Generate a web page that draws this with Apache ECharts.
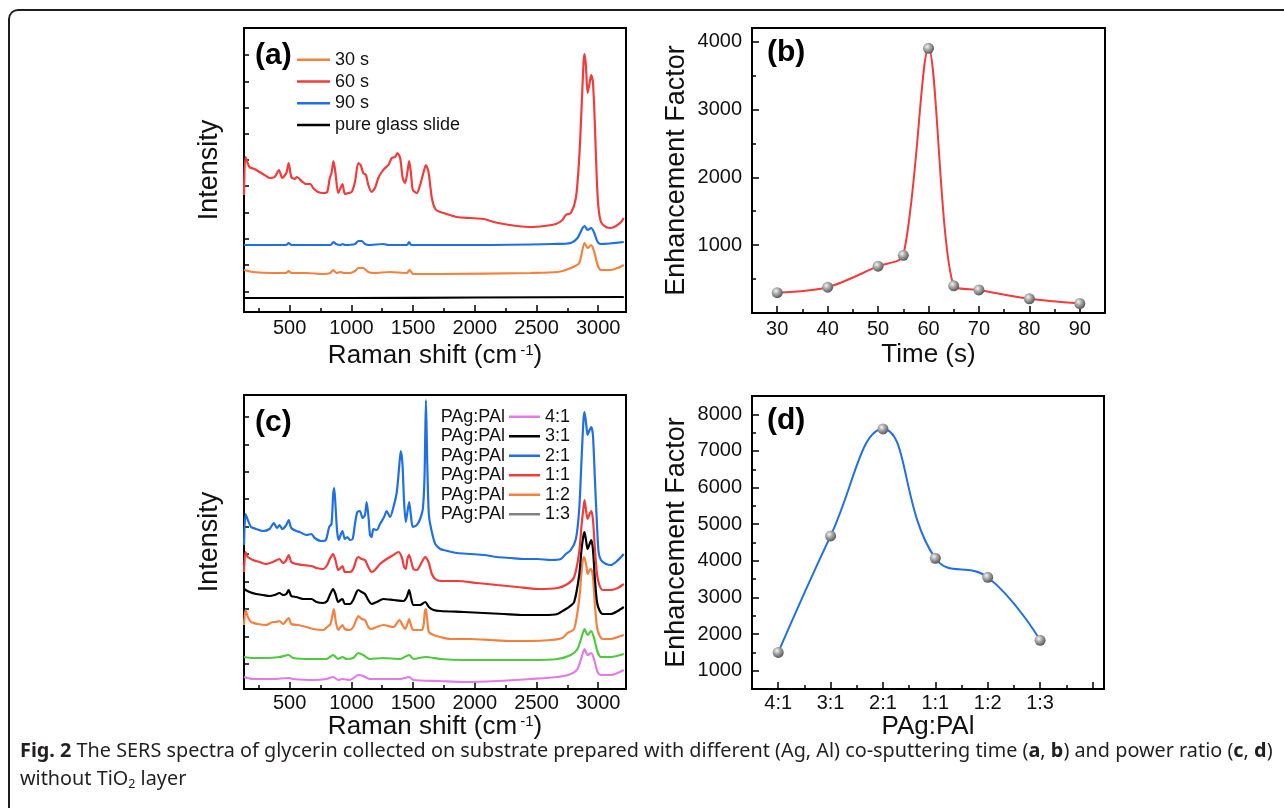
<!DOCTYPE html>
<html><head><meta charset="utf-8">
<script src="https://cdn.jsdelivr.net/npm/echarts@6/dist/echarts.min.js"></script>
<style>
html,body{margin:0;padding:0;background:#fff;}
#wrap{position:relative;width:1284px;height:808px;overflow:hidden;background:#fff;}
#chart{position:absolute;left:0;top:0;width:1284px;height:808px;}
#frame{position:absolute;left:8px;top:9px;width:1400px;height:900px;border-left:2px solid #1e1e1e;border-top:2px solid #1e1e1e;border-top-left-radius:10px;pointer-events:none;}
#caption{position:absolute;left:20px;top:736px;font-family:'Noto Sans','Open Sans','Liberation Sans',sans-serif;font-size:19px;line-height:28px;color:#231f20;transform-origin:0 0;white-space:nowrap;}
#caption b{font-weight:700;}
#caption sub{font-size:12px;vertical-align:-3px;line-height:0;}
</style></head>
<body><div id="wrap"><div id="chart"></div><div id="frame"></div>
<div id="caption"><span id="cap1"><b>Fig. 2</b> The SERS spectra of glycerin collected on substrate prepared with different (Ag, Al) co-sputtering time (<b>a</b>, <b>b</b>) and power ratio (<b>c</b>, <b>d</b>)</span><br>without TiO<sub>2</sub> layer</div></div>
<script>
// ---------- data ----------
const spectrumA30 = [[130,42],[202,40],[364,39],[470,39],[492,41],[515,39],[635,39],[771,38],[830,39],[852,42],[880,39],[912,40],[940,39],[988,39],[1030,41],[1056,44],[1096,44],[1137,40],[1178,39],[1313,40],[1449,39],[1471,42],[1503,38],[1720,38],[2453,39],[2670,40],[2778,44],[2846,49],[2889,69],[2914,64],[2943,67],[2968,60],[2995,47],[3022,42],[3103,42],[3158,44],[3207,47]];
const spectrumA60 = [[130,117],[142,155],[174,145],[215,143],[256,140],[296,137],[337,134],[378,135],[413,142],[440,134],[473,139],[492,149],[513,135],[540,133],[559,135],[595,131],[635,128],[668,128],[690,124],[730,120],[771,119],[804,120],[825,134],[839,139],[855,151],[871,139],[893,119],[912,124],[928,128],[947,118],[974,119],[1002,120],[1029,130],[1056,149],[1075,147],[1096,139],[1118,137],[1137,127],[1164,120],[1191,124],[1218,134],[1246,140],[1273,144],[1300,147],[1327,154],[1354,155],[1373,159],[1395,154],[1416,134],[1435,129],[1454,140],[1468,151],[1482,140],[1498,122],[1530,119],[1557,127],[1585,140],[1604,147],[1625,140],[1652,114],[1680,103],[1720,100],[1747,99],[1856,95],[1964,94],[2073,93],[2154,90],[2236,88],[2344,86],[2453,85],[2561,86],[2656,88],[2710,92],[2737,97],[2778,99],[2819,114],[2846,154],[2865,204],[2881,250],[2889,258],[2900,247],[2914,219],[2930,229],[2943,237],[2957,230],[2973,187],[2987,137],[3000,107],[3022,90],[3063,85],[3103,84],[3144,86],[3185,90],[3207,94]];
const spectrumA90 = [[130,67],[300,67],[470,67],[492,69],[515,67],[830,67],[855,70],[875,68],[910,67],[930,68],[950,67],[1030,68],[1056,71],[1083,71],[1110,68],[1140,67],[1259,68],[1300,67],[1450,67],[1468,70],[1485,67],[2000,67],[2640,68],[2778,69],[2832,74],[2873,84],[2889,86],[2914,82],[2943,84],[2968,79],[2995,70],[3022,68],[3207,70]];
const spectrumGlass = [[130,14],[1000,14],[2000,14.5],[3207,15]];

const spectrumC41 = [[130,12],[202,10],[364,10],[492,11],[527,10],[690,9],[798,10],[852,12],[893,9],[928,10],[988,9],[1056,14],[1096,13],[1151,10],[1259,10],[1395,10],[1468,12],[1503,9],[1720,8],[1910,7],[2181,8],[2453,10],[2670,12],[2778,15],[2832,20],[2873,35],[2889,40],[2914,34],[2943,36],[2968,29],[2995,17],[3022,14],[3103,14],[3207,19]];
const spectrumC31 = [[130,100],[142,99],[174,97],[229,95],[283,94],[337,93],[378,94],[418,96],[446,94],[473,95],[492,99],[513,93],[554,92],[608,90],[676,90],[717,87],[771,86],[804,88],[825,94],[852,100],[871,95],[893,87],[912,89],[928,90],[947,85],[988,85],[1015,89],[1042,97],[1056,99],[1083,97],[1110,95],[1137,89],[1164,85],[1205,87],[1259,90],[1341,89],[1422,88],[1449,92],[1468,99],[1482,92],[1503,84],[1557,84],[1598,87],[1628,82],[1666,79],[1720,78],[1910,77],[2073,76],[2236,75],[2398,74],[2561,74],[2670,75],[2724,79],[2764,82],[2805,87],[2846,114],[2865,140],[2881,154],[2889,157],[2903,147],[2914,140],[2930,145],[2943,149],[2957,140],[2973,110],[2990,87],[3009,79],[3036,75],[3103,75],[3158,78],[3207,82]];
const spectrumC21 = [[130,144],[142,175],[161,169],[188,162],[229,160],[283,158],[337,160],[372,166],[397,161],[418,164],[440,160],[473,164],[492,169],[513,161],[554,158],[581,157],[635,154],[676,155],[703,151],[757,148],[793,149],[820,162],[839,165],[852,194],[861,201],[871,184],[885,157],[898,149],[915,155],[928,158],[947,150],[966,152],[988,149],[1010,150],[1029,165],[1048,177],[1069,178],[1091,171],[1110,174],[1124,187],[1140,170],[1151,154],[1164,152],[1178,160],[1205,159],[1232,165],[1265,172],[1286,178],[1313,172],[1341,182],[1368,197],[1387,222],[1400,238],[1414,225],[1427,187],[1441,167],[1454,177],[1468,187],[1482,174],[1498,162],[1530,164],[1557,170],[1579,180],[1593,214],[1604,289],[1614,230],[1628,174],[1652,157],[1680,145],[1720,140],[1747,139],[1856,136],[1964,135],[2073,134],[2181,132],[2290,131],[2398,130],[2507,130],[2615,129],[2697,130],[2737,135],[2778,139],[2819,150],[2846,180],[2865,230],[2881,270],[2889,277],[2903,264],[2914,254],[2930,259],[2943,262],[2957,254],[2973,210],[2990,164],[3003,137],[3022,129],[3063,125],[3103,124],[3144,127],[3185,132],[3207,135]];
const spectrumC11 = [[130,117],[142,137],[161,132],[202,129],[256,127],[310,125],[364,127],[418,130],[446,126],[473,129],[492,134],[513,127],[554,125],[608,124],[676,123],[717,121],[771,120],[804,124],[825,130],[852,135],[871,129],[893,119],[912,121],[928,123],[947,117],[988,117],[1015,120],[1042,130],[1056,132],[1083,130],[1110,129],[1137,122],[1164,117],[1191,119],[1232,125],[1286,130],[1341,134],[1381,137],[1408,132],[1427,122],[1441,120],[1454,130],[1468,134],[1482,129],[1503,120],[1530,119],[1571,127],[1598,132],[1625,127],[1652,115],[1680,110],[1720,108],[1856,108],[2019,106],[2181,104],[2344,102],[2507,100],[2670,101],[2751,105],[2805,112],[2846,137],[2865,164],[2881,182],[2889,189],[2903,177],[2914,170],[2930,175],[2943,178],[2957,170],[2973,140],[2990,115],[3009,104],[3036,99],[3103,99],[3158,101],[3207,105]];
const spectrumC12 = [[130,64],[142,79],[161,72],[188,67],[242,65],[310,64],[364,67],[391,67],[418,68],[446,65],[492,71],[513,65],[568,64],[635,62],[690,60],[771,59],[804,62],[831,65],[858,80],[874,67],[893,59],[912,62],[928,64],[947,60],[988,59],[1015,62],[1042,70],[1056,73],[1083,70],[1110,69],[1137,62],[1164,60],[1205,62],[1259,64],[1341,62],[1389,69],[1414,64],[1435,60],[1454,65],[1468,70],[1482,64],[1503,59],[1571,59],[1585,64],[1595,77],[1604,80],[1614,70],[1628,57],[1666,54],[1720,52],[1802,50],[1964,50],[2127,49],[2290,48],[2453,48],[2615,49],[2710,51],[2751,56],[2805,60],[2846,90],[2865,117],[2881,132],[2889,131],[2903,124],[2914,115],[2930,119],[2943,120],[2957,112],[2973,84],[2990,62],[3009,54],[3036,50],[3103,50],[3158,52],[3207,54]];
const spectrumC13 = [[130,32],[202,31],[310,31],[418,32],[492,34],[527,31],[690,30],[798,30],[852,34],[893,30],[928,32],[961,30],[1015,31],[1056,36],[1096,34],[1151,30],[1259,31],[1395,30],[1468,34],[1503,30],[1604,32],[1720,30],[1910,29],[2181,29],[2453,29],[2670,30],[2778,34],[2832,40],[2873,55],[2889,60],[2914,54],[2943,58],[2968,50],[2995,37],[3022,32],[3103,32],[3207,35]];

const timeSeconds = [30, 40, 50, 55, 60, 65, 70, 80, 90];
const efTime = [300, 380, 690, 850, 3900, 400, 340, 210, 140];
const ratioCategories = ['4:1', '3:1', '2:1', '1:1', '1:2', '1:3'];
const efRatio = [1500, 4680, 7600, 4070, 3550, 1830];

const ramanMajorTicks = [500, 1000, 1500, 2000, 2500, 3000];
const ramanMinorTicks = [250, 750, 1250, 1750, 2250, 2750];
const timeMajorTicks = [30, 40, 50, 60, 70, 80, 90];
const timeMinorTicks = [35, 45, 55, 65, 75, 85];
const efTimeMajorTicks = [1000, 2000, 3000, 4000];
const efTimeMinorTicks = [500, 1500, 2500, 3500];
const ratioMajorTicks = [1, 2, 3, 4, 5, 6, 7];
const ratioLabelTicks = [1, 2, 3, 4, 5, 6];
const ratioMinorTicks = [1.5, 2.5, 3.5, 4.5, 5.5, 6.5];
const efRatioMajorTicks = [1000, 2000, 3000, 4000, 5000, 6000, 7000, 8000];
const efRatioMinorTicks = [1500, 2500, 3500, 4500, 5500, 6500, 7500];
const intensityTicksA = [20, 47, 73, 99, 126, 152, 178, 204, 230, 257];
const intensityTicksC = [25, 52, 80, 107, 135, 162, 190, 217, 244, 272];

// ---------- chart ----------
const FONT = "'Liberation Sans', Arial, sans-serif";
const INK = '#111';
const C_ORANGE = '#f5813f', C_RED = '#f23b3b', C_BLUE = '#1f6fe5', C_GREEN = '#4fc93d', C_MAG = '#e47ae8', C_GRAY = '#808080';
const plain = function (v) { return String(v); };

function mainX(grid, min, max, ticks, labels, name, nameGap, margin, fmt) {
  return {
    type: 'value', gridIndex: grid, min: min, max: max, position: 'bottom',
    axisLine: { show: true, onZero: false, lineStyle: { color: '#000', width: 2 } },
    axisTick: { show: true, inside: true, length: 7, customValues: ticks, lineStyle: { color: '#000', width: 1.5 } },
    axisLabel: { show: true, customValues: labels, margin: margin, fontSize: 20, fontFamily: FONT, color: INK, formatter: fmt || plain },
    splitLine: { show: false },
    name: name, nameLocation: 'middle', nameGap: nameGap,
    nameTextStyle: { fontSize: 26, fontFamily: FONT, color: INK,
      rich: { sup: { fontSize: 15, fontFamily: FONT, color: INK, verticalAlign: 'top', padding: [0, 0, 0, 3] } } }
  };
}
function minorX(grid, min, max, ticks) {
  return {
    type: 'value', gridIndex: grid, min: min, max: max, position: 'bottom',
    axisLine: { show: false }, axisLabel: { show: false }, splitLine: { show: false },
    axisTick: { show: true, inside: true, length: 4, customValues: ticks, lineStyle: { color: '#000', width: 1.5 } }
  };
}
function mainY(grid, min, max, ticks, labels, name, nameGap, tickLen) {
  return {
    type: 'value', gridIndex: grid, min: min, max: max, position: 'left',
    axisLine: { show: true, onZero: false, lineStyle: { color: '#000', width: 2 } },
    axisTick: { show: true, inside: true, length: tickLen, customValues: ticks, lineStyle: { color: '#000', width: 1.5 } },
    axisLabel: labels ? { show: true, customValues: labels, margin: 10, fontSize: 20, fontFamily: FONT, color: INK, formatter: plain } : { show: false },
    splitLine: { show: false },
    name: name, nameLocation: 'middle', nameGap: nameGap, nameRotate: 90,
    nameTextStyle: { fontSize: 27, fontFamily: FONT, color: INK }
  };
}
function minorY(grid, min, max, ticks) {
  return {
    type: 'value', gridIndex: grid, min: min, max: max, position: 'left',
    axisLine: { show: false }, axisLabel: { show: false }, splitLine: { show: false },
    axisTick: { show: true, inside: true, length: 4, customValues: ticks, lineStyle: { color: '#000', width: 1.5 } }
  };
}
function spec(name, data, color, xi, yi) {
  return { type: 'line', name: name, data: data, xAxisIndex: xi, yAxisIndex: yi,
    showSymbol: false, symbol: 'none', smooth: 0.25, animation: false,
    lineStyle: { color: color, width: 2.2 }, itemStyle: { color: color } };
}
const sphere = { type: 'radial', x: 0.38, y: 0.35, r: 0.65,
  colorStops: [{ offset: 0, color: '#f4f4f4' }, { offset: 0.45, color: '#a8a8a8' }, { offset: 1, color: '#5a5a5a' }] };

const gridStyle = { show: true, borderColor: '#000', borderWidth: 2, backgroundColor: 'transparent' };
const grids = [
  Object.assign({ left: 244, top: 28, width: 382, height: 284 }, gridStyle),
  Object.assign({ left: 752, top: 28, width: 353, height: 285 }, gridStyle),
  Object.assign({ left: 244, top: 395, width: 382, height: 294 }, gridStyle),
  Object.assign({ left: 752, top: 396, width: 352, height: 293 }, gridStyle)
];

const xAxes = [
  mainX(0, 130, 3225, ramanMajorTicks, ramanMajorTicks, 'Raman shift (cm{sup|-1})', 31, 6),
  minorX(0, 130, 3225, ramanMinorTicks),
  mainX(1, 25, 95, timeMajorTicks, timeMajorTicks, 'Time (s)', 29, 6),
  minorX(1, 25, 95, timeMinorTicks),
  mainX(2, 130, 3225, ramanMajorTicks, ramanMajorTicks, 'Raman shift (cm{sup|-1})', 11, 4),
  minorX(2, 130, 3225, ramanMinorTicks),
  mainX(3, 0.5, 7.22, ratioMajorTicks, ratioLabelTicks, 'PAg:PAl', 12, 4, function (v) { return ratioCategories[Math.round(v) - 1] || ''; }),
  minorX(3, 0.5, 7.22, ratioMinorTicks)
];
const yAxes = [
  mainY(0, 0, 284, intensityTicksA, null, 'Intensity', 21, 5),
  mainY(1, 0, 4200, efTimeMajorTicks, efTimeMajorTicks, 'Enhancement Factor', 62, 7),
  minorY(1, 0, 4200, efTimeMinorTicks),
  mainY(2, 0, 294, intensityTicksC, null, 'Intensity', 21, 5),
  mainY(3, 500, 8500, efRatioMajorTicks, efRatioMajorTicks, 'Enhancement Factor', 62, 7),
  minorY(3, 500, 8500, efRatioMinorTicks)
];

const series = [
  spec('pure glass slide', spectrumGlass, '#000', 0, 0),
  spec('30 s', spectrumA30, C_ORANGE, 0, 0),
  spec('90 s', spectrumA90, C_BLUE, 0, 0),
  spec('60 s', spectrumA60, C_RED, 0, 0),
  { type: 'line', name: 'EF vs time', xAxisIndex: 2, yAxisIndex: 1, smooth: 0.3, animation: false,
    data: timeSeconds.map(function (t, i) { return [t, efTime[i]]; }),
    symbol: 'circle', symbolSize: 11, showSymbol: true,
    lineStyle: { color: C_RED, width: 2 }, itemStyle: { color: sphere, borderWidth: 0 } },
  spec('4:1', spectrumC41, C_MAG, 4, 3),
  spec('1:3', spectrumC13, C_GREEN, 4, 3),
  spec('1:2', spectrumC12, C_ORANGE, 4, 3),
  spec('3:1', spectrumC31, '#000', 4, 3),
  spec('1:1', spectrumC11, C_RED, 4, 3),
  spec('2:1', spectrumC21, C_BLUE, 4, 3),
  { type: 'line', name: 'EF vs ratio', xAxisIndex: 6, yAxisIndex: 4, smooth: 0.45, animation: false,
    data: efRatio.map(function (v, i) { return [i + 1, v]; }),
    symbol: 'circle', symbolSize: 11, showSymbol: true,
    lineStyle: { color: C_BLUE, width: 2 }, itemStyle: { color: sphere, borderWidth: 0 } }
];

const legendText = { fontSize: 18, fontFamily: FONT, color: INK };
const legends = [
  { data: ['30 s', '60 s', '90 s', 'pure glass slide'], orient: 'vertical', left: 297, top: 49, padding: 0,
    itemGap: 0, itemWidth: 33, itemHeight: 2.5, icon: 'rect', selectedMode: false,
    textStyle: Object.assign({ lineHeight: 21.7 }, legendText) },
  { data: ['4:1', '3:1', '2:1', '1:1', '1:2', { name: '1:3', itemStyle: { color: C_GRAY } }],
    orient: 'vertical', left: 509, top: 407, padding: 0,
    itemGap: 0, itemWidth: 31, itemHeight: 2.5, icon: 'rect', selectedMode: false,
    textStyle: Object.assign({ lineHeight: 19.5 }, legendText) }
];

const graphics = [];
[['(a)', 255, 56], ['(b)', 767, 53], ['(c)', 255, 423], ['(d)', 767, 421]].forEach(function (p) {
  graphics.push({ type: 'text', x: p[1], y: p[2], silent: true,
    style: { text: p[0], font: 'bold 30px ' + FONT, fill: '#000', textAlign: 'left', textVerticalAlign: 'middle' } });
});
for (let i = 0; i < 6; i++) {
  graphics.push({ type: 'text', x: 505, y: 417 + 19.5 * i, silent: true,
    style: { text: 'PAg:PAl', font: '18px ' + FONT, fill: INK, textAlign: 'right', textVerticalAlign: 'middle' } });
}

const chart = echarts.init(document.getElementById('chart'), null, { renderer: 'canvas' });
chart.setOption({
  backgroundColor: '#fff', animation: false,
  grid: grids, xAxis: xAxes, yAxis: yAxes, series: series, legend: legends, graphic: graphics
});

function fitCaption() {
  const cap = document.getElementById('caption');
  const w = document.getElementById('cap1').offsetWidth; // untransformed width
  if (w > 0) cap.style.transform = 'scaleX(' + (1253 / w) + ')';
}
fitCaption();
if (document.fonts && document.fonts.ready) { document.fonts.ready.then(fitCaption); }
</script>
</body></html>
